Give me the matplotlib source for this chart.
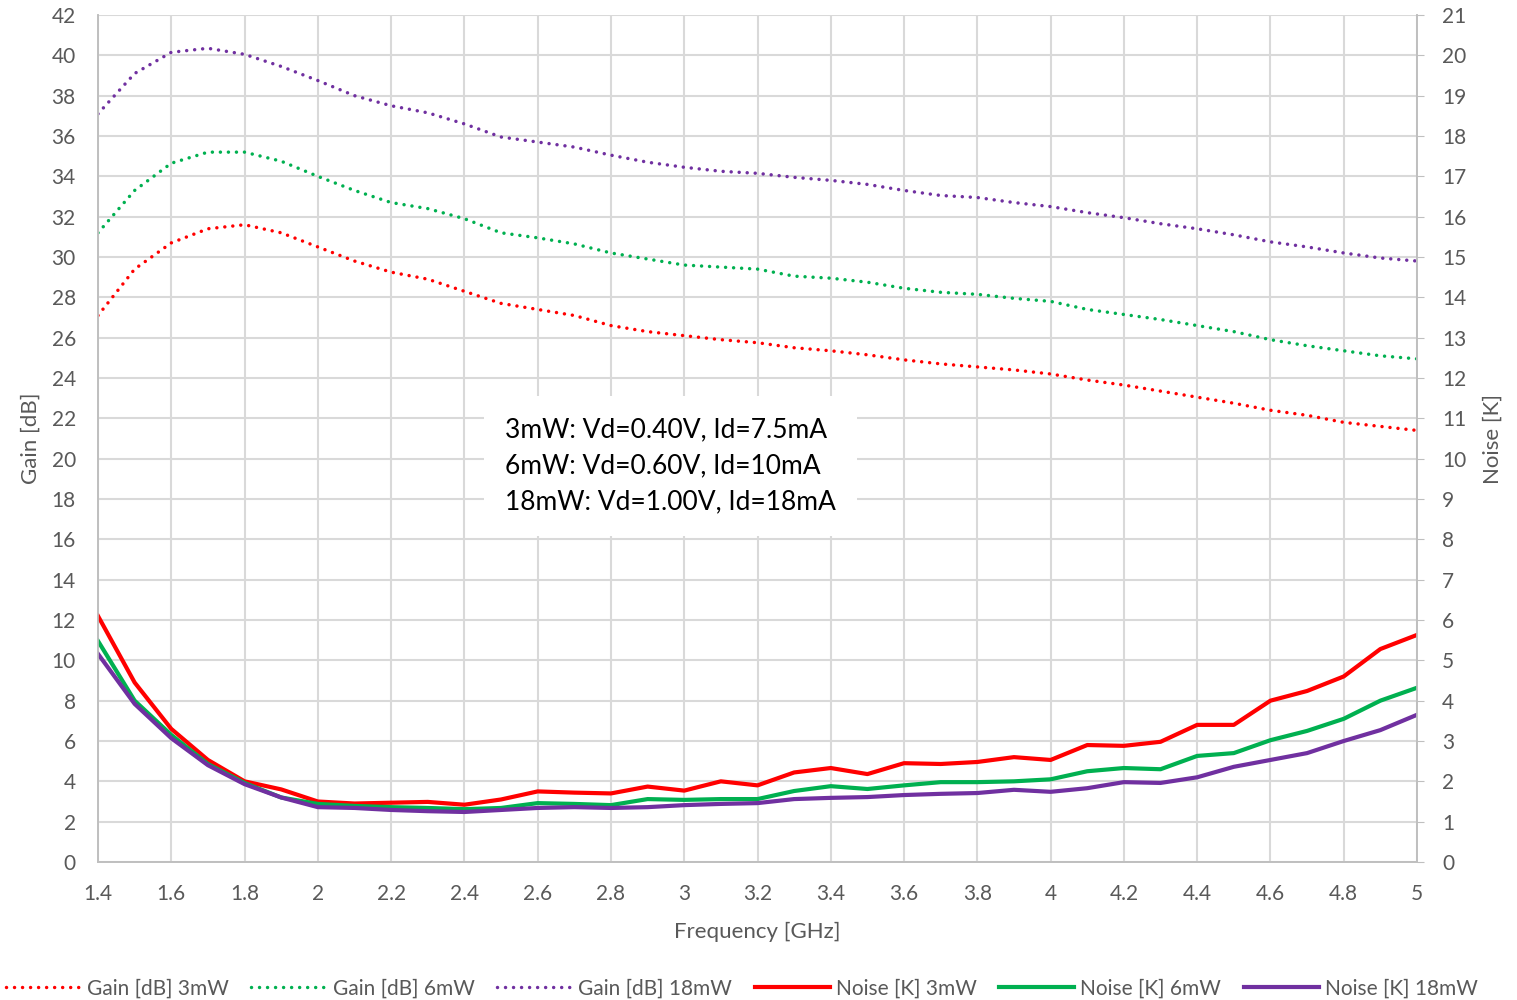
import matplotlib
matplotlib.use("Agg")
import matplotlib.pyplot as plt
import numpy as np

freq = [1.4, 1.5, 1.6, 1.7, 1.8, 1.9, 2.0, 2.1, 2.2, 2.3, 2.4, 2.5, 2.6, 2.7, 2.8, 2.9, 3.0,
        3.1, 3.2, 3.3, 3.4, 3.5, 3.6, 3.7, 3.8, 3.9, 4.0, 4.1, 4.2, 4.3, 4.4, 4.5, 4.6, 4.7,
        4.8, 4.9, 5.0]

gain_3mw = [27.1, 29.4, 30.7, 31.4, 31.6, 31.2, 30.5, 29.8, 29.25, 28.9, 28.3, 27.7, 27.4, 27.1,
            26.6, 26.3, 26.1, 25.9, 25.75, 25.5, 25.35, 25.15, 24.9, 24.7, 24.55, 24.4, 24.2,
            23.9, 23.65, 23.35, 23.05, 22.75, 22.4, 22.15, 21.8, 21.6, 21.4]
gain_6mw = [31.2, 33.3, 34.65, 35.2, 35.2, 34.75, 34.0, 33.3, 32.7, 32.4, 31.9, 31.2, 30.95, 30.65,
            30.2, 29.9, 29.6, 29.5, 29.4, 29.05, 28.95, 28.75, 28.45, 28.25, 28.15, 27.95, 27.8,
            27.4, 27.15, 26.9, 26.6, 26.3, 25.9, 25.6, 25.35, 25.1, 24.95]
gain_18mw = [37.1, 39.1, 40.15, 40.35, 40.05, 39.45, 38.75, 38.0, 37.5, 37.15, 36.6, 35.95, 35.7,
             35.45, 35.05, 34.7, 34.45, 34.25, 34.15, 33.95, 33.8, 33.6, 33.3, 33.05, 32.95, 32.7,
             32.5, 32.2, 31.95, 31.65, 31.4, 31.1, 30.75, 30.5, 30.2, 29.95, 29.8]

noise_3mw = [6.1, 4.45, 3.3, 2.53, 2.0, 1.8, 1.5, 1.45, 1.47, 1.49, 1.42, 1.55, 1.75, 1.72, 1.7,
             1.87, 1.77, 2.0, 1.9, 2.22, 2.33, 2.18, 2.45, 2.43, 2.48, 2.6, 2.53, 2.9, 2.88, 2.98,
             3.4, 3.4, 4.0, 4.24, 4.6, 5.28, 5.63]
noise_6mw = [5.48, 4.0, 3.15, 2.43, 1.96, 1.6, 1.44, 1.39, 1.36, 1.34, 1.31, 1.34, 1.46, 1.44, 1.41,
             1.56, 1.54, 1.56, 1.56, 1.76, 1.88, 1.81, 1.9, 1.98, 1.98, 2.0, 2.05, 2.25, 2.33, 2.3,
             2.63, 2.7, 3.02, 3.25, 3.55, 4.0, 4.32]
noise_18mw = [5.16, 3.92, 3.07, 2.4, 1.93, 1.6, 1.36, 1.34, 1.29, 1.26, 1.24, 1.29, 1.34, 1.36, 1.34,
              1.36, 1.41, 1.44, 1.46, 1.56, 1.59, 1.61, 1.66, 1.69, 1.71, 1.79, 1.74, 1.83, 1.98,
              1.96, 2.1, 2.36, 2.53, 2.7, 3.0, 3.27, 3.65]

x_ticks = [1.4, 1.6, 1.8, 2, 2.2, 2.4, 2.6, 2.8, 3, 3.2, 3.4, 3.6, 3.8, 4, 4.2, 4.4, 4.6, 4.8, 5]
x_tick_labels = ["1.4", "1.6", "1.8", "2", "2.2", "2.4", "2.6", "2.8", "3", "3.2", "3.4", "3.6",
                 "3.8", "4", "4.2", "4.4", "4.6", "4.8", "5"]
annotation = "3mW: Vd=0.40V, Id=7.5mA\n6mW: Vd=0.60V, Id=10mA\n18mW: Vd=1.00V, Id=18mA"

RED = "#FF0000"
GREEN = "#00B050"
PURPLE = "#7030A0"
TXT = "#595959"
GRID = "#D9D9D9"

plt.rcParams['font.family'] = ['Lato', 'DejaVu Sans']

fig = plt.figure(figsize=(15.17, 10.0), dpi=100)
ax = fig.add_axes([98/1517, 0.138, (1417-98)/1517, 0.847])
ax2 = ax.twinx()

dot = (0, (0.01, 2.3))
l1, = ax.plot(freq, gain_3mw, color=RED, lw=2.5, linestyle=dot, dash_capstyle='round', label="Gain [dB] 3mW")
l2, = ax.plot(freq, gain_6mw, color=GREEN, lw=2.5, linestyle=dot, dash_capstyle='round', label="Gain [dB] 6mW")
l3, = ax.plot(freq, gain_18mw, color=PURPLE, lw=2.5, linestyle=dot, dash_capstyle='round', label="Gain [dB] 18mW")
l4, = ax2.plot(freq, noise_3mw, color=RED, lw=3, label="Noise [K] 3mW")
l5, = ax2.plot(freq, noise_6mw, color=GREEN, lw=3, label="Noise [K] 6mW")
l6, = ax2.plot(freq, noise_18mw, color=PURPLE, lw=3, label="Noise [K] 18mW")

ax.set_xlim(1.4, 5.0)
ax.set_ylim(0, 42)
ax2.set_ylim(0, 21)
ax.set_xticks(x_ticks)
ax.set_xticklabels(x_tick_labels)
ax.set_yticks(np.arange(0, 43, 2))
ax2.set_yticks(np.arange(0, 22, 1))

ax.grid(True, color=GRID, lw=1.5)
ax.set_axisbelow(True)
for a in (ax, ax2):
    for s in a.spines.values():
        s.set_color("#BFBFBF")
        s.set_linewidth(1.2)
    a.spines['top'].set_visible(False)
ax.tick_params(axis='both', colors=TXT, labelsize=15, length=0)
ax.tick_params(axis='y', pad=16)
ax.tick_params(axis='x', pad=16)
ax2.tick_params(axis='y', colors=TXT, labelsize=15, length=5, direction='out', pad=13)
ax2.tick_params(axis='y', color="#BFBFBF")

ax.set_xlabel("Frequency [GHz]", color=TXT, fontsize=16, labelpad=13)
ax.set_ylabel("Gain [dB]", color=TXT, fontsize=16, labelpad=8)
ax2.set_ylabel("Noise [K]", color=TXT, fontsize=16, labelpad=12)

ax2.text(0.3086, 0.4675, annotation, transform=ax.transAxes, fontsize=19, color="black",
         va='center', ha='left', linespacing=1.55,
         bbox=dict(boxstyle='square,pad=0.8', facecolor='white', edgecolor='none'), zorder=5)

fig.legend(handles=[l1, l2, l3, l4, l5, l6], loc='lower center', bbox_to_anchor=(0.489, -0.017),
           ncol=6, frameon=False, fontsize=15, labelcolor=TXT, handlelength=3.6,
           handletextpad=0.3, columnspacing=1.08)

fig.savefig("out.png", dpi=100, facecolor='white')
